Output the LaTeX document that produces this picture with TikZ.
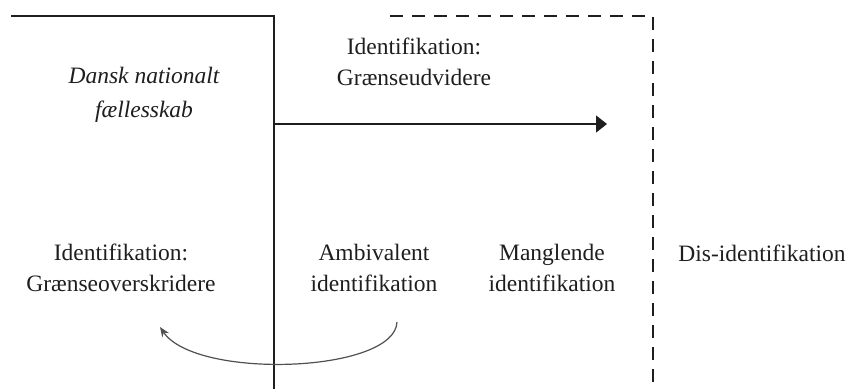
\documentclass[tikz,border=0pt]{standalone}
\usepackage{fontspec}
\setmainfont{Liberation Serif}
\usetikzlibrary{arrows.meta}
\definecolor{ink}{HTML}{1E1E1E}
\definecolor{curvegrey}{HTML}{505050}
\begin{document}
\begin{tikzpicture}[x=1pt,y=-1pt,
  lbl/.style={anchor=base,align=center,inner sep=0pt,text=ink,
    font=\fontsize{23.5}{31}\selectfont},
  border/.style={draw=ink,line width=2.7pt},
  dashborder/.style={draw=ink,line width=2.7pt,dash pattern=on 12.5pt off 9.5pt},
  flow/.style={draw=ink,line width=1.5pt,-{Triangle[length=11pt,width=17pt]}},
  loop/.style={draw=curvegrey,line width=1.2pt,-{Stealth[length=10pt,width=8pt]}}]
\useasboundingbox (0,0) rectangle (853,389);
% region borders
\coordinate (sA) at (11,16);
\coordinate (sB) at (274,16);
\coordinate (sC) at (274,389);
\coordinate (dA) at (390,16);
\coordinate (dB) at (653,16);
\coordinate (dC) at (653,389);
\draw[border] (sA) -- (sB) -- (sC);
\draw[dashborder] (dA) -- (dB) -- (dC);
% labels (anchor = baseline of the last line)
\node[lbl,font=\fontsize{23.5}{34}\selectfont\itshape] (dnf) at (144,117) {Dansk nationalt\\fællesskab};
\node[lbl] (igu) at (414,85) {Identifikation:\\Grænseudvidere};
\node[lbl] (igo) at (121,291) {Identifikation:\\Grænseoverskridere};
\node[lbl] (amb) at (374,291) {Ambivalent\\identifikation};
\node[lbl] (man) at (552,291) {Manglende\\identifikation};
\node[lbl] (dis) at (762,261) {Dis-identifikation};
% arrows
\coordinate (aS) at (275,124);
\coordinate (aE) at (607,124);
\draw[flow] (aS) -- (aE);
\coordinate (cS) at (397,322);
\coordinate (cE) at (160,327);
\draw[loop] (cS) .. controls (395,373) and (196,380) .. (cE);
\end{tikzpicture}
\end{document}
